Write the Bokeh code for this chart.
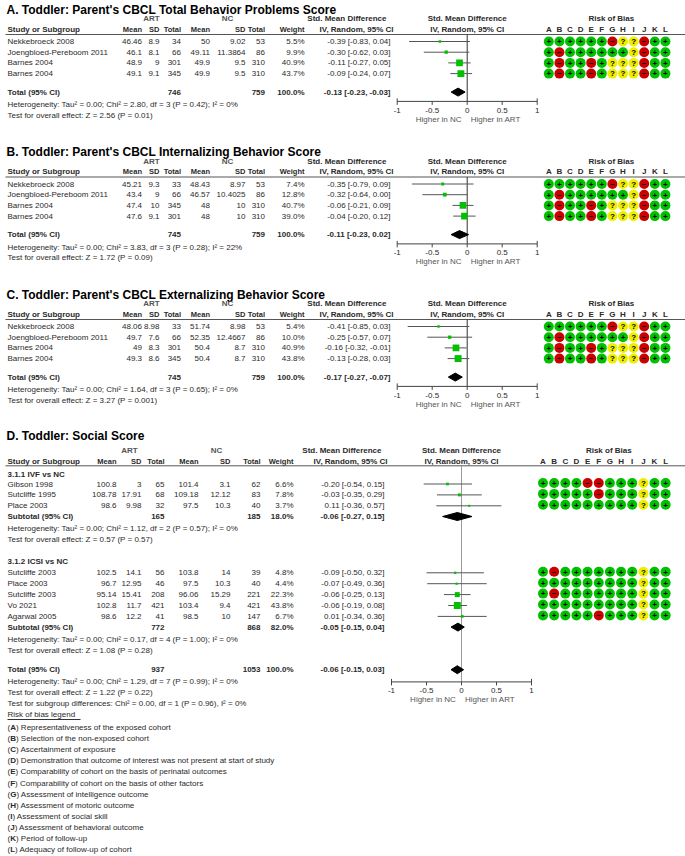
import math
from bokeh.plotting import figure
from bokeh.models import Range1d
from bokeh.core.properties import value
from bokeh.embed import file_html
from bokeh.resources import INLINE

FONT = "Liberation Sans"

# ---------------- Panel A ----------------
A_title = "A. Toddler: Parent's CBCL Total Behavior Problems Score"
A_study = ["Nekkebroeck 2008", "Joengbloed-Pereboom 2011", "Barnes 2004", "Barnes 2004"]
A_art_mean = [46.46, 46.1, 48.9, 49.1]
A_art_sd = [8.9, 8.1, 9, 9.1]
A_art_n = [34, 66, 301, 345]
A_nc_mean = [50, 49.11, 49.9, 49.9]
A_nc_sd = [9.02, 11.3864, 9.5, 9.5]
A_nc_n = [53, 86, 310, 310]
A_weight = [5.5, 9.9, 40.9, 43.7]
A_smd = [-0.39, -0.30, -0.11, -0.09]
A_lo = [-0.83, -0.62, -0.27, -0.24]
A_hi = [0.04, 0.03, 0.05, 0.07]
A_total = [746, 759, 100.0, -0.13, -0.23, -0.03]
A_het = "Heterogeneity: Tau² = 0.00; Chi² = 2.80, df = 3 (P = 0.42); I² = 0%"
A_test = "Test for overall effect: Z = 2.56 (P = 0.01)"
A_bias = ["++++++-??-++", "+-++++++?-++", "+-++-+???-++", "+-++-+???-++"]

# ---------------- Panel B ----------------
B_title = "B. Toddler: Parent's CBCL Internalizing Behavior Score"
B_study = ["Nekkebroeck 2008", "Joengbloed-Pereboom 2011", "Barnes 2004", "Barnes 2004"]
B_art_mean = [45.21, 43.4, 47.4, 47.6]
B_art_sd = [9.3, 9, 10, 9.1]
B_art_n = [33, 66, 345, 301]
B_nc_mean = [48.43, 46.57, 48, 48]
B_nc_sd = [8.97, 10.4025, 10, 10]
B_nc_n = [53, 86, 310, 310]
B_weight = [7.4, 12.8, 40.7, 39.0]
B_smd = [-0.35, -0.32, -0.06, -0.04]
B_lo = [-0.79, -0.64, -0.21, -0.20]
B_hi = [0.09, 0.00, 0.09, 0.12]
B_total = [745, 759, 100.0, -0.11, -0.23, 0.02]
B_het = "Heterogeneity: Tau² = 0.00; Chi² = 3.83, df = 3 (P = 0.28); I² = 22%"
B_test = "Test for overall effect: Z = 1.72 (P = 0.09)"
B_bias = ["++++++-??-++", "+-++++++?-++", "+-++-+???-++", "+-++-+???-++"]

# ---------------- Panel C ----------------
C_title = "C. Toddler: Parent's CBCL Externalizing Behavior Score"
C_study = ["Nekkebroeck 2008", "Joengbloed-Pereboom 2011", "Barnes 2004", "Barnes 2004"]
C_art_mean = [48.06, 49.7, 49, 49.3]
C_art_sd = [8.98, 7.6, 8.3, 8.6]
C_art_n = [33, 66, 301, 345]
C_nc_mean = [51.74, 52.35, 50.4, 50.4]
C_nc_sd = [8.98, 12.4667, 8.7, 8.7]
C_nc_n = [53, 86, 310, 310]
C_weight = [5.4, 10.0, 40.9, 43.8]
C_smd = [-0.41, -0.25, -0.16, -0.13]
C_lo = [-0.85, -0.57, -0.32, -0.28]
C_hi = [0.03, 0.07, -0.01, 0.03]
C_total = [745, 759, 100.0, -0.17, -0.27, -0.07]
C_het = "Heterogeneity: Tau² = 0.00; Chi² = 1.64, df = 3 (P = 0.65); I² = 0%"
C_test = "Test for overall effect: Z = 3.27 (P = 0.001)"
C_bias = ["++++++-??-++", "+-++++++?-++", "+-++-+???-++", "+-++-+???-++"]

# ---------------- Panel D ----------------
D_title = "D. Toddler: Social Score"
D_groups = ["3.1.1 IVF vs NC", "3.1.2 ICSI vs NC"]
D1_study = ["Gibson 1998", "Sutcliffe 1995", "Place 2003"]
D1_art_mean = [100.8, 108.78, 98.6]
D1_art_sd = [3, 17.91, 9.98]
D1_art_n = [65, 68, 32]
D1_nc_mean = [101.4, 109.18, 97.5]
D1_nc_sd = [3.1, 12.12, 10.3]
D1_nc_n = [62, 83, 40]
D1_weight = [6.6, 7.8, 3.7]
D1_smd = [-0.20, -0.03, 0.11]
D1_lo = [-0.54, -0.35, -0.36]
D1_hi = [0.15, 0.29, 0.57]
D1_sub = [165, 185, 18.0, -0.06, -0.27, 0.15]
D1_het = "Heterogeneity: Tau² = 0.00; Chi² = 1.12, df = 2 (P = 0.57); I² = 0%"
D1_test = "Test for overall effect: Z = 0.57 (P = 0.57)"
D1_bias = ["++++--+++?++", "+++++-+++?++", "+++++++++?++"]

D2_study = ["Sutcliffe 2003", "Place 2003", "Sutcliffe 2003", "Vo 2021", "Agarwal 2005"]
D2_art_mean = [102.5, 96.7, 95.14, 102.8, 98.6]
D2_art_sd = [14.1, 12.95, 15.41, 11.7, 12.2]
D2_art_n = [56, 46, 208, 421, 41]
D2_nc_mean = [103.8, 97.5, 96.06, 103.4, 98.5]
D2_nc_sd = [14, 10.3, 15.29, 9.4, 10]
D2_nc_n = [39, 40, 221, 421, 147]
D2_weight = [4.8, 4.4, 22.3, 43.8, 6.7]
D2_smd = [-0.09, -0.07, -0.06, -0.06, 0.01]
D2_lo = [-0.50, -0.49, -0.25, -0.19, -0.34]
D2_hi = [0.32, 0.36, 0.13, 0.08, 0.36]
D2_sub = [772, 868, 82.0, -0.05, -0.15, 0.04]
D2_het = "Heterogeneity: Tau² = 0.00; Chi² = 0.17, df = 4 (P = 1.00); I² = 0%"
D2_test = "Test for overall effect: Z = 1.08 (P = 0.28)"
D2_bias = ["+-+++++++?++", "+++++++++?++", "+-+++++++?++", "+++++++++?++", "+++++-+++?++"]

D_total = [937, 1053, 100.0, -0.06, -0.15, 0.03]
D_het = "Heterogeneity: Tau² = 0.00; Chi² = 1.29, df = 7 (P = 0.99); I² = 0%"
D_test = "Test for overall effect: Z = 1.22 (P = 0.22)"
D_subgroup = "Test for subgroup differences: Chi² = 0.00, df = 1 (P = 0.96), I² = 0%"

BIAS_LETTERS = list("ABCDEFGHIJKL")
BIAS_LEGEND = [
    "Representativeness of the exposed cohort",
    "Selection of the non-exposed cohort",
    "Ascertainment of exposure",
    "Demonstration that outcome of interest was not present at start of study",
    "Comparability of cohort on the basis of perinatal outcomes",
    "Comparability of cohort on the basis of other factors",
    "Assessment of intelligence outcome",
    "Assessment of motoric outcome",
    "Assessment of social skill",
    "Assessment of behavioral outcome",
    "Period of follow-up",
    "Adequacy of follow-up of cohort",
]
TICKS = [-1, -0.5, 0, 0.5, 1]
TICK_LABELS = ["-1", "-0.5", "0", "0.5", "1"]

# ---------------- styling ----------------
TXT = "#2a2a2a"
GREEN = "#00c000"
RED = "#cc0000"
YELLOW = "#eeee00"
BIAS_COLOR = {"+": GREEN, "-": RED, "?": YELLOW}
BIAS_SYM = {"+": "+", "-": "\u2212", "?": "?"}
BOLD_W = {"A": .722, "B": .722, "C": .722, "D": .722, "E": .667, "F": .611, "G": .778,
          "H": .722, "I": .278, "J": .556, "K": .722, "L": .611}

W, H = 685, 856
LX = 7.0  # left text edge
p = figure(width=W, height=H, x_range=Range1d(0, W), y_range=Range1d(H, 0),
           output_backend="svg", toolbar_location=None, min_border=0,
           x_axis_location=None, y_axis_location=None)
p.outline_line_color = None
p.grid.visible = False


def lin_range(center, scale):
    return Range1d((0 - center) / scale, (W - center) / scale)


p.extra_x_ranges = {
    "fABC": lin_range(466.7, 70.0),
    "fD": lin_range(461.0, 70.0),
    "bABC": lin_range(548.3, 10.6),
    "bD": lin_range(542.5, 11.15),
}


def txt(x, y, t, align="left", bold=False, size=8, color=TXT, xr="default"):
    n = len(t)
    xs = list(x) if isinstance(x, (list, tuple)) else [x] * n
    ys = list(y) if isinstance(y, (list, tuple)) else [y] * n
    p.text(x=xs, y=ys, text=list(t), x_range_name=xr, text_align=align,
           text_baseline="middle", text_font=value(FONT), text_font_size=f"{size}px",
           text_font_style="bold" if bold else "normal", text_color=color)


def hline(x0, x1, y, color="#555555"):
    p.segment(x0=[x0], x1=[x1], y0=[y], y1=[y], line_color=color, line_width=1)


def fmt(v):
    return str(v)


def ci_str(s, lo, hi):
    return f"{s:.2f} [{lo:.2f}, {hi:.2f}]"


def study_rows(rows, cols, study, am, asd, an, nm, nsd, nn, w, smd, lo, hi):
    txt(LX, rows, study)
    txt(cols[0], rows, [fmt(v) for v in am], "right")
    txt(cols[1], rows, [fmt(v) for v in asd], "right")
    txt(cols[2], rows, [fmt(v) for v in an], "right")
    txt(cols[3], rows, [fmt(v) for v in nm], "right")
    txt(cols[4], rows, [fmt(v) for v in nsd], "right")
    txt(cols[5], rows, [fmt(v) for v in nn], "right")
    txt(cols[6], rows, [f"{v:.1f}%" for v in w], "right")
    txt(cols[7], rows, [ci_str(s, a, b) for s, a, b in zip(smd, lo, hi)], "right")


def summary_row(y, cols, label, vals):
    txt(LX, y, [label], bold=True)
    txt(cols[2], y, [str(vals[0])], "right", bold=True)
    txt(cols[5], y, [str(vals[1])], "right", bold=True)
    txt(cols[6], y, [f"{vals[2]:.1f}%"], "right", bold=True)
    txt(cols[7], y, [ci_str(vals[3], vals[4], vals[5])], "right", bold=True)


def forest_points(rows, w, smd, lo, hi, xr):
    p.segment(x0=lo, x1=hi, y0=rows, y1=rows, line_color="#555555", line_width=1, x_range_name=xr)
    p.scatter(x=smd, y=rows, size=[max(2.0, 1.05 * math.sqrt(v)) for v in w], marker="square",
              fill_color=GREEN, line_color=None, x_range_name=xr)


def diamond(y, vals, xr, hh=4.0):
    p.patch(x=[vals[4], vals[3], vals[5], vals[3]], y=[y, y - hh, y, y + hh],
            fill_color="black", line_color="black", x_range_name=xr)


def forest_axis(top, axis_y, xr, zero_color):
    p.segment(x0=[0], x1=[0], y0=[top], y1=[axis_y], line_color=zero_color, line_width=1, x_range_name=xr)
    p.segment(x0=[TICKS[0]], x1=[TICKS[-1]], y0=[axis_y], y1=[axis_y], line_color="#444444", x_range_name=xr)
    p.segment(x0=TICKS, x1=TICKS, y0=[axis_y - (3 if abs(t) == 1 else 0) for t in TICKS],
              y1=[axis_y + 3.5] * len(TICKS), line_color="#444444", x_range_name=xr)
    txt(TICKS, axis_y + 9, TICK_LABELS, "center", xr=xr)
    txt(-0.08, axis_y + 18, ["Higher in NC"], "right", color="#555555", xr=xr)
    txt(0.05, axis_y + 18, ["Higher in ART"], "left", color="#555555", xr=xr)


def bias_rows(rows, codes, xr):
    xs, ys, cs, ss = [], [], [], []
    for y, code in zip(rows, codes):
        for i, c in enumerate(code):
            xs.append(i); ys.append(y); cs.append(BIAS_COLOR[c]); ss.append(BIAS_SYM[c])
    p.scatter(x=xs, y=ys, size=10, fill_color=cs, line_color=None, x_range_name=xr)
    txt(xs, [y + 0.3 for y in ys], ss, "center", bold=True, size=8, color="black", xr=xr)


def headers(grp_y, hdr_y, cols, art_c, nc_c, ci_r1, ci_r2, fxr, bxr, rob_idx):
    txt(art_c, grp_y, ["ART"], "center", bold=True, color="#555555")
    txt(nc_c, grp_y, ["NC"], "center", bold=True, color="#555555")
    txt(LX, hdr_y, ["Study or Subgroup"], bold=True)
    txt(cols[:7], hdr_y, ["Mean", "SD", "Total", "Mean", "SD", "Total", "Weight"], "right",
        bold=True, size=7.5)
    txt(ci_r1, grp_y, ["Std. Mean Difference"], "right", bold=True)
    txt(ci_r2, hdr_y, ["IV, Random, 95% CI"], "right", bold=True)
    txt(0.0, grp_y, ["Std. Mean Difference"], "center", bold=True, xr=fxr)
    txt(0.0, hdr_y, ["IV, Random, 95% CI"], "center", bold=True, xr=fxr)
    txt(rob_idx, grp_y, ["Risk of Bias"], "center", bold=True, xr=bxr)
    txt(list(range(12)), hdr_y, BIAS_LETTERS, "center", bold=True, xr=bxr)


COLS_ABC = [141.5, 159, 180.5, 209.5, 245, 264.5, 304, 390]
COLS_D = [116, 141, 164, 198, 230, 260, 293, 384]

panels = [
    (0.0, A_title, A_study, A_art_mean, A_art_sd, A_art_n, A_nc_mean, A_nc_sd, A_nc_n,
     A_weight, A_smd, A_lo, A_hi, A_total, A_het, A_test, A_bias),
    (142.5, B_title, B_study, B_art_mean, B_art_sd, B_art_n, B_nc_mean, B_nc_sd, B_nc_n,
     B_weight, B_smd, B_lo, B_hi, B_total, B_het, B_test, B_bias),
    (285.0, C_title, C_study, C_art_mean, C_art_sd, C_art_n, C_nc_mean, C_nc_sd, C_nc_n,
     C_weight, C_smd, C_lo, C_hi, C_total, C_het, C_test, C_bias),
]

for (T, title, study, am, asd, an, nm, nsd, nn, w, smd, lo, hi, tot, het, test, bias) in panels:
    title_y, grp_y, hdr_y, line_y = T + 9, T + 18, T + 28.5, T + 34
    rows = [T + 41 + 10.7 * i for i in range(len(study))]
    tot_y = rows[-1] + 18.5
    het_y, test_y, axis_y = tot_y + 12.5, tot_y + 23.3, tot_y + 9.3
    txt(LX - 1, title_y, [title], bold=True, size=12, color="black")
    headers(grp_y, hdr_y, COLS_ABC, 151, 227, 386, 393, "fABC", "bABC", 5.9)
    hline(5, W, line_y)
    study_rows(rows, COLS_ABC, study, am, asd, an, nm, nsd, nn, w, smd, lo, hi)
    summary_row(tot_y, COLS_ABC, "Total (95% CI)", tot)
    txt(LX, het_y, [het])
    txt(LX, test_y, [test])
    forest_axis(line_y, axis_y, "fABC", "#333333")
    forest_points(rows, w, smd, lo, hi, "fABC")
    diamond(tot_y, tot, "fABC")
    bias_rows(rows, bias, "bABC")

# ---------------- Panel D drawing ----------------
title_y, grp_y, hdr_y, line_y = 435.5, 449.5, 460.5, 465.3
STEP = 10.9
txt(LX - 1, title_y, [D_title], bold=True, size=12, color="black")
headers(grp_y, hdr_y, COLS_D, 129, 216, 381, 387, "fD", "bD", 5.9)
hline(5, W, line_y)

g1_y = 473.5
rows1 = [g1_y + 10 + STEP * i for i in range(len(D1_study))]
sub1_y = rows1[-1] + 10.7
het1_y, test1_y = sub1_y + 12.3, sub1_y + 23.1
g2_y = test1_y + 21.7
rows2 = [g2_y + 11.5 + STEP * i for i in range(len(D2_study))]
sub2_y = rows2[-1] + 10.7
het2_y, test2_y = sub2_y + 12.3, sub2_y + 23.1
tot_y = test2_y + 19.5
het_y, test_y, subg_y = tot_y + 11.5, tot_y + 22.3, tot_y + 33.3
axis_y = tot_y + 12.2

txt(LX, g1_y, [D_groups[0]], bold=True)
study_rows(rows1, COLS_D, D1_study, D1_art_mean, D1_art_sd, D1_art_n, D1_nc_mean, D1_nc_sd,
           D1_nc_n, D1_weight, D1_smd, D1_lo, D1_hi)
summary_row(sub1_y, COLS_D, "Subtotal (95% CI)", D1_sub)
txt(LX, het1_y, [D1_het])
txt(LX, test1_y, [D1_test])

txt(LX, g2_y, [D_groups[1]], bold=True)
study_rows(rows2, COLS_D, D2_study, D2_art_mean, D2_art_sd, D2_art_n, D2_nc_mean, D2_nc_sd,
           D2_nc_n, D2_weight, D2_smd, D2_lo, D2_hi)
summary_row(sub2_y, COLS_D, "Subtotal (95% CI)", D2_sub)
txt(LX, het2_y, [D2_het])
txt(LX, test2_y, [D2_test])

summary_row(tot_y, COLS_D, "Total (95% CI)", D_total)
txt(LX, het_y, [D_het])
txt(LX, test_y, [D_test])
txt(LX, subg_y, [D_subgroup])

forest_axis(line_y, axis_y, "fD", "#999999")
forest_points(rows1, D1_weight, D1_smd, D1_lo, D1_hi, "fD")
forest_points(rows2, D2_weight, D2_smd, D2_lo, D2_hi, "fD")
diamond(sub1_y, D1_sub, "fD")
diamond(sub2_y, D2_sub, "fD")
diamond(tot_y, D_total, "fD")
bias_rows([y - 1 for y in rows1], D1_bias, "bD")
bias_rows([y - 1 for y in rows2], D2_bias, "bD")

# ---------------- Risk of bias legend ----------------
leg_y = subg_y + 11.5
txt(LX, leg_y, ["Risk of bias legend"])
hline(LX, 80, leg_y + 5, color="#333333")
item_ys = [leg_y + 13 + 11.1 * i for i in range(len(BIAS_LEGEND))]
txt(LX, item_ys, ["("] * 12)
txt(LX + 2.7, item_ys, BIAS_LETTERS, bold=True)
txt([LX + 2.7 + 8 * BOLD_W[L] for L in BIAS_LETTERS], item_ys,
    [") " + s for s in BIAS_LEGEND])

html = file_html(p, INLINE)
html = html.replace("<body>", '<body style="margin:0;padding:0;overflow:hidden">', 1)
open("out.html", "w").write(html)
